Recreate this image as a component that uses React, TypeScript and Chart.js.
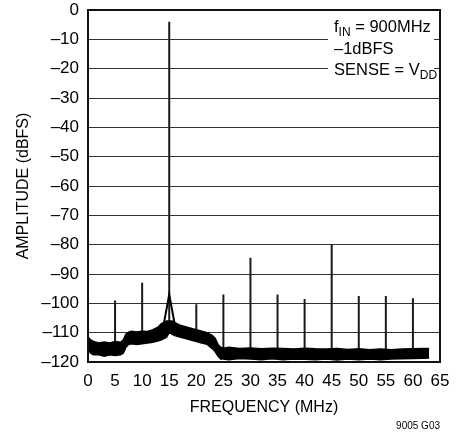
import React, { useEffect, useRef } from 'react';
import { Chart, registerables } from 'chart.js';

Chart.register(...registerables);

// ---- data ----
const xTickValues = [0, 5, 10, 15, 20, 25, 30, 35, 40, 45, 50, 55, 60, 65];
const yTickLabels = ['0', '–10', '–20', '–30', '–40', '–50', '–60', '–70', '–80', '–90', '–100', '–110', '–120'];

// noise floor band (upper / lower envelope), MHz and dBFS
const noiseFreq = [0, 0.5, 1, 2, 3, 4, 5, 6, 6.5, 7, 7.5, 8, 9, 10, 11, 12, 13, 13.5, 14, 14.5, 15, 15.5, 16, 17, 18, 19, 20, 21, 22, 23, 23.5, 24, 24.5, 25, 26, 28, 30, 32, 34, 36, 38, 40, 42, 44, 46, 48, 50, 52, 54, 56, 58, 60, 62, 63];
const noiseHi = [-111.5, -112.5, -113, -113.5, -113.2, -113.5, -113, -113.3, -112.5, -110.5, -109.8, -109.5, -109.8, -109.5, -109.6, -109, -108, -107, -106.5, -106, -106, -106, -106.5, -107.5, -108, -108.5, -109, -109.5, -110, -111, -112, -114, -115, -115.3, -115, -115.4, -115.2, -115.5, -115.3, -115.4, -115.6, -115.3, -115.5, -115.6, -115.4, -115.7, -115.5, -115.8, -115.6, -115.8, -115.6, -115.5, -115.4, -115.4];
const noiseLo = [-116, -117, -117.5, -117.5, -118, -117.5, -117.8, -117.5, -117, -115, -114, -113.8, -114, -113.8, -113.5, -113.3, -112.8, -112.5, -112, -111.5, -110, -110.5, -111, -111.5, -112, -112.5, -113, -113.5, -114, -115.5, -116.5, -118, -119, -119, -119.2, -118.8, -119, -119.2, -118.9, -119.2, -119, -119.1, -119.2, -119, -119.3, -119, -119.2, -119, -119.2, -119, -118.9, -118.8, -118.7, -118.6];

// fundamental skirt
const skirtFreq = [13.9, 15, 16.1];
const skirtDb = [-108, -97, -108];

// spurs (fundamental at 15 MHz and harmonics / images)
const spurFreq = [5, 10, 15, 20, 25, 30, 35, 40, 45, 50, 55, 60];
const spurPeak = [-99, -93, -4, -100.3, -97, -84.5, -97, -98.5, -80, -97.5, -97.5, -98.3];
const spurBase = [-115, -111, -106, -111, -117, -117, -117, -117, -117, -117, -117, -117];

const FONT = '"Liberation Sans", Arial, sans-serif';

const overlayPlugin = {
  id: 'overlay',
  afterDraw(chart: any) {
    const { ctx, chartArea: a } = chart;
    ctx.save();
    // white box behind the annotation
    ctx.fillStyle = '#fff';
    ctx.fillRect(a.right - 112, a.top + 2, 106, 72);

    ctx.fillStyle = '#000';
    ctx.textBaseline = 'alphabetic';
    ctx.textAlign = 'left';
    const big = `16.5px ${FONT}`;
    const small = `12px ${FONT}`;
    const x0 = a.right - 106;
    const drawParts = (parts: [string, boolean][], y: number) => {
      let x = x0;
      for (const [t, sub] of parts) {
        ctx.font = sub ? small : big;
        ctx.fillText(t, x, sub ? y + 4 : y);
        x += ctx.measureText(t).width;
      }
    };
    drawParts([['f', false], ['IN', true], [' = 900MHz', false]], a.top + 22);
    drawParts([['–1dBFS', false]], a.top + 44);
    drawParts([['SENSE = V', false], ['DD', true]], a.top + 64.5);

    // plot frame
    ctx.strokeStyle = '#111';
    ctx.lineWidth = 2;
    ctx.strokeRect(a.left, a.top, a.right - a.left, a.bottom - a.top);

    // figure code
    ctx.font = `10px ${FONT}`;
    ctx.textAlign = 'right';
    ctx.fillText('9005 G03', a.right, chart.height - 4);
    ctx.restore();
  },
};

export default function App() {
  const ref = useRef<HTMLCanvasElement>(null);

  useEffect(() => {
    const band = (ys: number[]) => noiseFreq.map((x, i) => ({ x, y: ys[i] }));
    const spurs: any[] = [];
    spurFreq.forEach((f, i) => {
      spurs.push({ x: f, y: spurBase[i] }, { x: f, y: spurPeak[i] }, { x: f, y: null });
    });
    const chart = new Chart(ref.current!, {
      type: 'scatter',
      data: {
        datasets: [
          {
            data: band(noiseHi),
            showLine: true,
            borderColor: '#000',
            backgroundColor: '#000',
            borderWidth: 1.5,
            pointRadius: 0,
            fill: '+1',
          },
          {
            data: band(noiseLo),
            showLine: true,
            borderColor: '#000',
            backgroundColor: '#000',
            borderWidth: 1.5,
            pointRadius: 0,
            fill: false,
          },
          {
            data: skirtFreq.map((x, i) => ({ x, y: skirtDb[i] })),
            showLine: true,
            borderColor: '#000',
            borderWidth: 2,
            pointRadius: 0,
            fill: false,
          },
          {
            data: spurs,
            showLine: true,
            spanGaps: false,
            borderColor: '#1a1a1a',
            borderWidth: 2,
            pointRadius: 0,
            fill: false,
          },
        ],
      } as any,
      options: {
        responsive: false,
        animation: false,
        devicePixelRatio: 1,
        layout: { padding: { left: 0, top: 10, right: 22, bottom: 0 } },
        plugins: { legend: { display: false }, tooltip: { enabled: false } },
        scales: {
          x: {
            type: 'linear',
            min: 0,
            max: 65,
            afterBuildTicks: (s: any) => {
              s.ticks = xTickValues.map((v) => ({ value: v }));
            },
            afterFit: (s: any) => {
              s.height = 71;
              s.paddingLeft = 0;
              s.paddingRight = 0;
              s.paddingTop = 0;
              s.paddingBottom = 0;
            },
            ticks: {
              color: '#000',
              padding: 11,
              font: { family: FONT, size: 17, lineHeight: 1 },
              callback: (v: any) => String(v),
              maxRotation: 0,
              autoSkip: false,
            },
            grid: { display: false, drawTicks: false },
            border: { display: false },
            title: {
              display: true,
              text: 'FREQUENCY (MHz)',
              color: '#000',
              font: { family: FONT, size: 16, lineHeight: 1.2 },
              padding: { top: 0, bottom: 16 },
            },
          },
          y: {
            type: 'linear',
            min: -120,
            max: 0,
            afterFit: (s: any) => {
              s.width = 88;
              s.paddingTop = 0;
              s.paddingBottom = 0;
              s.paddingLeft = 0;
              s.paddingRight = 0;
            },
            ticks: {
              stepSize: 10,
              color: '#000',
              padding: 9,
              font: { family: FONT, size: 17, lineHeight: 1 },
              callback: (v: any) => yTickLabels[Math.round(-Number(v) / 10)],
            },
            grid: { color: '#333', lineWidth: 1, drawTicks: false },
            border: { display: false },
            title: {
              display: true,
              text: 'AMPLITUDE (dBFS)',
              color: '#000',
              font: { family: FONT, size: 16, lineHeight: 1.2 },
              padding: { top: 14, bottom: 0 },
            },
          },
        },
      } as any,
      plugins: [overlayPlugin],
    });
    return () => chart.destroy();
  }, []);

  return (
    <div style={{ position: 'absolute', left: 0, top: 0, width: 462, height: 433, background: '#fff' }}>
      <canvas ref={ref} width={462} height={433} style={{ display: 'block' }} />
    </div>
  );
}
